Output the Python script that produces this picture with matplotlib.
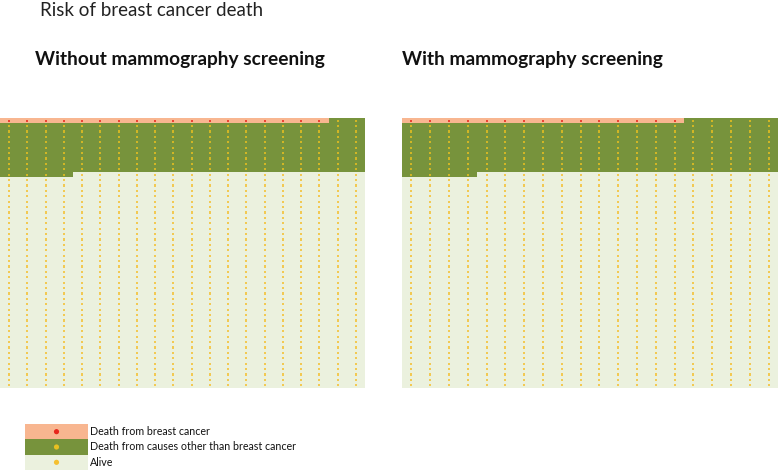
import numpy as np
import matplotlib
matplotlib.use("Agg")
import matplotlib.pyplot as plt
from matplotlib.colors import ListedColormap

plt.rcParams['font.family'] = ['Lato', 'DejaVu Sans']

# ---- data ----
title = "Risk of breast cancer death"
panels = ["Without mammography screening", "With mammography screening"]
n_cols = 20
n_rows = 50
bc_deaths = [18, 15]          # death from breast cancer (per 1000)
other_deaths = [186, 189]     # death from other causes (per 1000)
categories = ["Death from breast cancer",
              "Death from causes other than breast cancer",
              "Alive"]
bg_colors = ["#F8B690", "#77933C", "#EBF1DE"]
dot_colors = ["#E8261C", "#E8C020", "#F5C030"]

W, H = 778, 472
fig = plt.figure(figsize=(W / 100, H / 100), dpi=100)

fig.text(40 / W, 1 - 10 / H, title, fontsize=13.5, va="center", ha="left", color="#222222")

panel_boxes = [(0, 365), (402, 376)]
title_x = [35, 402]
cmap = ListedColormap(bg_colors)

for i, name in enumerate(panels):
    x0, w = panel_boxes[i]
    ax = fig.add_axes([x0 / W, (H - 388) / H, w / W, 270 / H])
    n = n_cols * n_rows
    cat = np.full(n, 2)
    cat[:bc_deaths[i]] = 0
    cat[bc_deaths[i]:bc_deaths[i] + other_deaths[i]] = 1
    grid = cat.reshape(n_rows, n_cols)
    ax.pcolormesh(np.arange(n_cols + 1), np.arange(n_rows + 1), grid,
                  cmap=cmap, vmin=-0.5, vmax=2.5)
    cx, cy = np.meshgrid(np.arange(n_cols) + 0.5, np.arange(n_rows) + 0.5)
    cols = np.array(dot_colors)[grid]
    ax.scatter(cx.ravel(), cy.ravel(), s=2.2, c=cols.ravel(), marker="s",
               linewidths=0, alpha=0.8)
    ax.set_xlim(0, n_cols)
    ax.set_ylim(n_rows, 0)
    ax.axis("off")
    fig.text(title_x[i] / W, 1 - 60 / H, name, fontsize=13.8, fontweight="bold",
             va="center", ha="left", color="#111111")

# ---- legend ----
lax = fig.add_axes([25 / W, (H - 470) / H, 63 / W, 46 / H])
ypos = np.arange(len(categories))
lax.barh(ypos, [1] * len(categories), height=1.0, color=bg_colors, left=0)
lax.scatter([0.5] * len(categories), ypos, s=14, c=dot_colors, linewidths=0)
lax.set_xlim(0, 1)
lax.set_ylim(len(categories) - 0.5, -0.5)
lax.axis("off")
for k, lab in enumerate(categories):
    lax.text(1.03, k, lab, transform=lax.transData, fontsize=7.7, va="center",
             ha="left", clip_on=False, color="#111111")

fig.savefig("out.png", dpi=100)
